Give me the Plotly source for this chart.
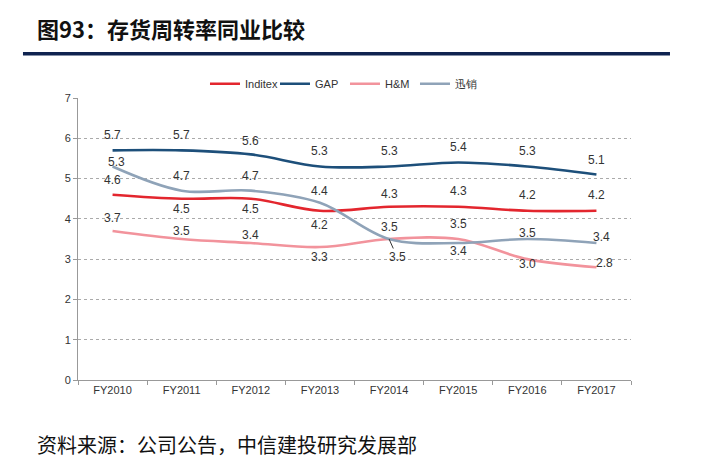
import plotly.graph_objects as go

categories = ["FY2010", "FY2011", "FY2012", "FY2013", "FY2014", "FY2015", "FY2016", "FY2017"]
inditex = [4.6, 4.5, 4.5, 4.2, 4.3, 4.3, 4.2, 4.2]
gap = [5.7, 5.7, 5.6, 5.3, 5.3, 5.4, 5.3, 5.1]
hm = [3.7, 3.5, 3.4, 3.3, 3.5, 3.5, 3.0, 2.8]
xunxiao = [5.3, 4.7, 4.7, 4.4, 3.5, 3.4, 3.5, 3.4]
y_ticks = [0, 1, 2, 3, 4, 5, 6, 7]

series = [
    ("Inditex", inditex, "#e3262e"),
    ("GAP", gap, "#1d4f7a"),
    ("H&M", hm, "#f2939c"),
    ("迅销", xunxiao, "#8fa3b8"),
]

# label offsets (pixels) per series/point: (xshift, yshift)
label_shift = {
    "Inditex": [(0, 15), (0, -10), (0, -10), (0, -14), (0, 13), (0, 16), (0, 16), (0, 16)],
    "GAP": [(0, 15), (0, 15), (0, 13), (0, 15), (0, 15), (0, 15), (0, 15), (0, 15)],
    "H&M": [(0, 13), (0, 8), (0, 8), (0, -10), (0, 12), (0, 15), (0, -5), (8, 4)],
    "迅销": [(4, 4), (0, 15), (0, 15), (0, 12), None, (0, -8), (0, 6), (5, 6)],
}

fig = go.Figure()
for name, vals, col in series:
    fig.add_trace(go.Scatter(
        x=categories, y=vals, name=name, mode="lines",
        line=dict(color=col, width=2.6, shape="spline", smoothing=1.0),
    ))

lab_font = dict(family="Liberation Sans, Arial", size=12, color="#333")
annotations = []
for name, vals, col in series:
    for i, (c, v) in enumerate(zip(categories, vals)):
        sh = label_shift[name][i]
        if sh is None:
            annotations.append(dict(
                x=c, y=v, xref="x", yref="y", text=f"{v:.1f}",
                showarrow=True, arrowhead=0, arrowwidth=1, arrowcolor="#333",
                ax=8, ay=18, standoff=0, font=lab_font,
            ))
        else:
            annotations.append(dict(
                x=c, y=v, xref="x", yref="y", text=f"{v:.1f}",
                showarrow=False, xshift=sh[0], yshift=sh[1], font=lab_font,
            ))

# title and footer
annotations.append(dict(
    x=-0.0778, y=1.2489, xref="paper", yref="paper", xanchor="left", yanchor="middle",
    text="<b>图93：存货周转率同业比较</b>", showarrow=False,
    font=dict(family="Noto Sans CJK SC", size=22, color="#111"),
))
annotations.append(dict(
    x=-0.0778, y=-0.2277, xref="paper", yref="paper", xanchor="left", yanchor="middle",
    text="资料来源：公司公告，中信建投研究发展部", showarrow=False,
    font=dict(family="Noto Sans CJK SC", size=20, color="#111"),
))

fig.update_layout(
    width=702, height=474,
    margin=dict(l=70, r=79, t=90, b=102),
    paper_bgcolor="white", plot_bgcolor="white",
    showlegend=True,
    legend=dict(orientation="h", x=0.4828, y=1.0506, xanchor="center", yanchor="middle",
                font=dict(family="Liberation Sans, Arial", size=11, color="#333"),
                entrywidth=25, entrywidthmode="pixels",
                tracegroupgap=0, bgcolor="rgba(0,0,0,0)"),
    annotations=annotations,
    shapes=[dict(type="line", xref="paper", yref="paper", x0=-0.0995, x1=1.0705,
                 y0=1.1569, y1=1.1569, line=dict(color="#0f2350", width=3.5))],
)
fig.update_xaxes(
    type="category", range=[-0.5, 7.5], showgrid=False, showline=True,
    linecolor="#999", linewidth=1,
    ticks="outside", tickson="boundaries", ticklen=4, tickcolor="#999",
    tickfont=dict(family="Liberation Sans, Arial", size=11, color="#333"),
)
fig.update_yaxes(
    range=[0, 7], tickvals=y_ticks, showgrid=True, gridcolor="#aaaaaa", griddash="dot",
    gridwidth=1, showline=True, linecolor="#999", linewidth=1, zeroline=False,
    ticks="outside", ticklen=4, tickcolor="#999",
    tickfont=dict(family="Liberation Sans, Arial", size=11, color="#333"),
)

fig.write_html("out.html")
